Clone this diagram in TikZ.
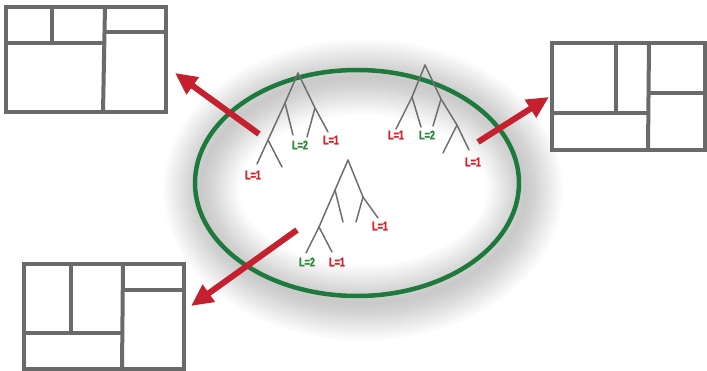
\documentclass[tikz,border=0pt]{standalone}
\usepackage{fontspec}
\setsansfont{Liberation Sans}
\newfontfamily\labfont[FakeStretch=0.72,FakeBold=1.6]{Liberation Sans Bold}
\usetikzlibrary{arrows.meta,shapes.geometric}
\definecolor{boxgray}{HTML}{6A6A6A}
\definecolor{treegray}{HTML}{6E6E6E}
\definecolor{ringgreen}{HTML}{1E7A3C}
\definecolor{arrowred}{HTML}{C4202E}
\definecolor{lred}{HTML}{D9232B}
\definecolor{lgreen}{HTML}{2F8A3A}
\tikzset{
  panel/.style={draw=boxgray, line width=4pt},
  divider/.style={draw=boxgray, line width=4pt},
  branch/.style={draw=treegray, line width=1.5pt, line cap=round},
  bigarrow/.style={draw=arrowred, line width=6pt, -{Triangle[length=22pt,width=20pt]}},
  glow/.style={draw=black, draw opacity=0.012},
  lab/.style={font=\labfont\fontsize{12.5}{12.5}\selectfont, inner sep=0pt},
  labr/.style={lab, text=lred},
  labg/.style={lab, text=lgreen}
}
\begin{document}
\begin{tikzpicture}[x=1pt,y=-1pt]
\useasboundingbox (0,0) rectangle (707,371);
% soft glow round the ring
\foreach \w in {4,8,...,76} {
  \draw[glow, line width=\w pt] (363,190) ellipse [x radius=162, y radius=113];
}
\node[draw=ringgreen, line width=4.5pt, ellipse, minimum width=324pt, minimum height=226pt, inner sep=0pt] (ring) at (357,183) {};

% top-left panel
\draw[panel] (6,7) rectangle (166,112);
\draw[divider] (52,7) -- (52,43);
\draw[divider] (6,43) -- (104,43);
\draw[divider] (105,7) -- (103,112);
\draw[divider] (104,32) -- (166,32);

% right panel
\draw[panel] (552,43) rectangle (705,150);
\draw[divider] (616,43) -- (616,113);
\draw[divider] (552,113) -- (648,113);
\draw[divider] (649,43) -- (648,150);
\draw[divider] (648,93) -- (705,93);

% bottom-left panel
\draw[panel] (24,264) rectangle (184,369);
\draw[divider] (71,264) -- (71,333);
\draw[divider] (24,333) -- (122,333);
\draw[divider] (123,264) -- (122,369);
\draw[divider] (122,290) -- (184,290);

% tree 1
\coordinate (a0) at (298,73);
\coordinate (a1) at (285,103);
\coordinate (a2) at (315,108);
\coordinate (a3) at (268,140);
\coordinate (a4) at (293,135);
\coordinate (a5) at (307,137);
\coordinate (a6) at (328,132);
\coordinate (a7) at (257,164);
\coordinate (a8) at (282,167);
\draw[branch] (a0) -- (a1) -- (a3) -- (a7);
\draw[branch] (a3) -- (a8);
\draw[branch] (a1) -- (a4);
\draw[branch] (a0) -- (a2) -- (a6);
\draw[branch] (a2) -- (a5);
\node[labr] (t1a) at (253,175) {L=1};
\node[labg] (t1b) at (300,145) {L=2};
\node[labr] (t1c) at (331,140) {L=1};

% tree 2
\coordinate (b0) at (425,65);
\coordinate (b1) at (412,97);
\coordinate (b2) at (441,99);
\coordinate (b3) at (396,129);
\coordinate (b4) at (421,127);
\coordinate (b5) at (433,126);
\coordinate (b6) at (457,125);
\coordinate (b7) at (443,153);
\coordinate (b8) at (469,150);
\draw[branch] (b0) -- (b1) -- (b3);
\draw[branch] (b1) -- (b4);
\draw[branch] (b0) -- (b2) -- (b6) -- (b8);
\draw[branch] (b2) -- (b5);
\draw[branch] (b6) -- (b7);
\node[labr] (t2a) at (396,135) {L=1};
\node[labg] (t2b) at (427,135) {L=2};
\node[labr] (t2c) at (473,162) {L=1};

% tree 3
\coordinate (c0) at (348,160);
\coordinate (c1) at (335,190);
\coordinate (c2) at (363,197);
\coordinate (c3) at (319,227);
\coordinate (c4) at (343,222);
\coordinate (c5) at (356,222);
\coordinate (c6) at (378,218);
\coordinate (c7) at (306,253);
\coordinate (c8) at (332,252);
\draw[branch] (c0) -- (c1) -- (c3) -- (c7);
\draw[branch] (c3) -- (c8);
\draw[branch] (c1) -- (c4);
\draw[branch] (c0) -- (c2) -- (c6);
\draw[branch] (c2) -- (c5);
\node[labr] (t3a) at (380,226) {L=1};
\node[labg] (t3b) at (307,262) {L=2};
\node[labr] (t3c) at (337,262) {L=1};

% arrows
\coordinate (s1) at (259,134);
\coordinate (e1) at (175,73);
\coordinate (s2) at (478,142);
\coordinate (e2) at (549,97);
\coordinate (s3) at (297,230);
\coordinate (e3) at (191,306);
\draw[bigarrow] (s1) -- (e1);
\draw[bigarrow] (s2) -- (e2);
\draw[bigarrow] (s3) -- (e3);
\end{tikzpicture}
\end{document}
